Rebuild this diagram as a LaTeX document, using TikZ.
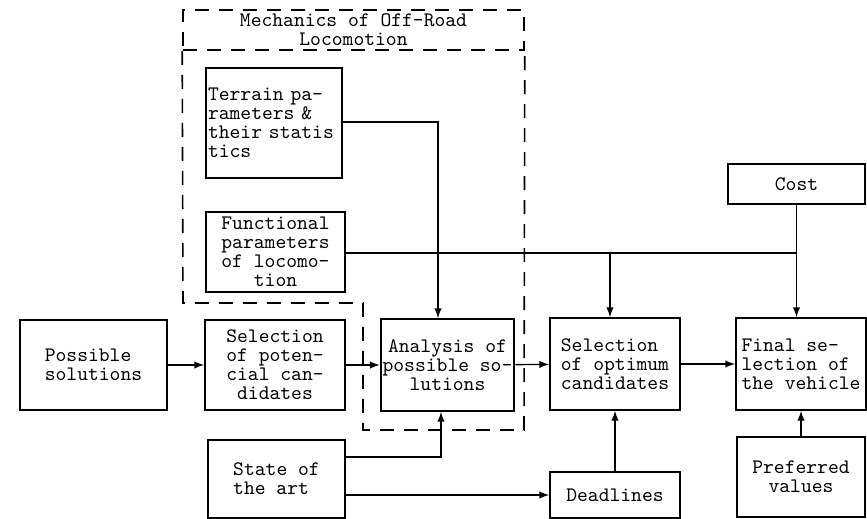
\documentclass[tikz,border=0pt]{standalone}
\usepackage{fontspec}
\usepackage{tikz}

\begin{document}
\begin{tikzpicture}[x=0.5pt,y=-0.5pt,>=latex,
    box/.style={draw,line width=0.9pt,inner sep=1pt,font=\ttfamily\fontsize{10.3}{9.5}\selectfont},
    frame/.style={line width=0.8pt,dash pattern=on 7pt off 5pt},
    link/.style={line width=0.7pt}]
        \useasboundingbox (0,0) rectangle (867,519);
        % dashed group
        \node[box,frame,align=center,minimum width=170.5pt,minimum height=20pt] (mech) at (353.5,30) {Mechanics of Off-Road\\Locomotion};
        \draw[frame] (mech.south west) -- (183,303) -- (363,303) -- (363,430) -- (524,430) -- (mech.south east);
        % boxes
        \node[box,align=left,minimum width=73.5pt,minimum height=45pt] (poss) at (93.5,365) {Possible\\solutions};
        \node[box,align=center,minimum width=70pt,minimum height=45pt] (selpot) at (275,365) {Selection\\of poten-\\cial can-\\didates};
        \node[box,align=center,minimum width=64.5pt,minimum height=46pt] (anal) at (447.5,365) {Analysis of\\possible so-\\lutions};
        \node[box,align=left,minimum width=65pt,minimum height=46pt] (selopt) at (615,364) {Selection\\of optimum\\candidates};
        \node[box,align=left,minimum width=65pt,minimum height=46pt] (final) at (801,364) {Final se-\\lection of\\the vehicle};
        \node[box,align=left,text width=66pt,minimum height=55pt] (terrain) at (274,123) {Terrain pa-\\rameters \&\\their statis\\tics};
        \node[box,align=center,minimum width=69.5pt,minimum height=40pt] (func) at (275.5,252) {Functional\\parameters\\of locomo-\\tion};
        \node[box,minimum width=68.5pt,minimum height=20pt] (cost) at (796.5,184) {Cost};
        \node[box,align=left,minimum width=68.5pt,minimum height=39pt] (state) at (276.5,479) {State of\\the art};
        \node[box,minimum width=65pt,minimum height=23pt] (dead) at (615,495) {Deadlines};
        \node[box,align=center,minimum width=64pt,minimum height=40pt] (pref) at (801,477) {Preferred\\values};
        % bends
        \coordinate (tdrop) at (438,122);
        \coordinate (sdrop) at (441,457);
        \coordinate (jopt) at (610,253);
        \coordinate (jcost) at (796.5,253);
        % connectors
        \draw[->,link] (poss) -- (selpot);
        \draw[->,link] (selpot) -- (anal);
        \draw[->,link] (anal) -- (selopt);
        \draw[->,link] (selopt) -- (final);
        \draw[->,link] (terrain.east |- tdrop) -- (tdrop) -- (tdrop |- anal.north);
        \draw[link] (func.east |- jopt) -- (jcost);
        \draw[->,link] (jopt) -- (jopt |- selopt.north);
        \draw[->,link] (cost) -- (cost |- final.north);
        \draw[->,link] (state.east |- sdrop) -- (sdrop) -- (sdrop |- anal.south);
        \draw[->,link] (state.east |- dead.west) -- (dead.west);
        \draw[->,link] (dead) -- (dead |- selopt.south);
        \draw[->,link] (pref) -- (pref |- final.south);
\end{tikzpicture}
\end{document}
